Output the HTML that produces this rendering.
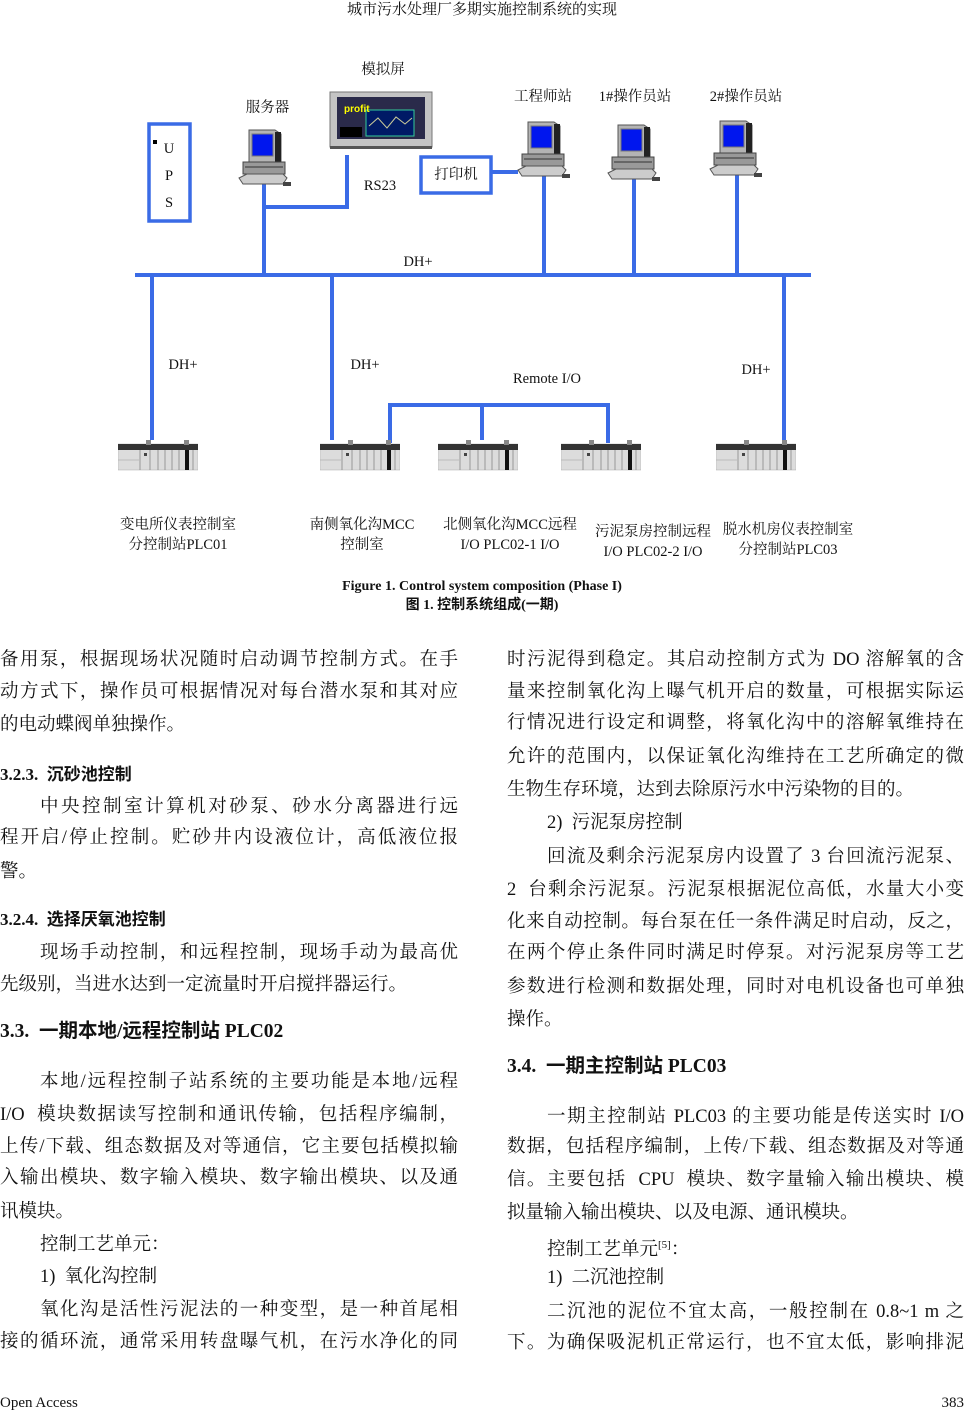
<!DOCTYPE html>
<html><head><meta charset="utf-8"><style>
body{margin:0;width:964px;height:1414px;position:relative;background:#fff;overflow:hidden;font-family:"Liberation Serif","Noto Serif CJK SC",serif;color:#111}
.a{position:absolute;white-space:nowrap}
.l{position:absolute;height:26px;line-height:26px;font-size:18.5px;text-align:justify;text-align-last:justify;white-space:nowrap;overflow:visible}
.L{left:0;width:458px}.R{left:507px;width:457px}
.n{text-align-last:left}
.h{font-family:"Liberation Serif","Noto Sans CJK SC",sans-serif;font-weight:bold;font-size:17px;text-align-last:left}
.h2{font-size:19.5px}
.d{position:absolute;font-size:14.5px;white-space:nowrap;text-align:center;line-height:20px}
</style></head><body>
<div class="a" style="left:0;width:964px;text-align:center;top:0;font-size:15px;line-height:20px">城市污水处理厂多期实施控制系统的实现</div>

<svg class="a" style="left:0;top:0" width="964" height="570">
<defs>
<symbol id="pc" viewBox="0 0 56 60">
<path d="M12 2h26l6 4v28H12z" fill="#b4b4b4" stroke="#555" stroke-width="1"/>
<rect x="38" y="4" width="6" height="30" fill="#222"/>
<rect x="15" y="6" width="21" height="22" fill="#0016ee" stroke="#777"/>
<rect x="6" y="34" width="42" height="12" fill="#999" stroke="#444"/>
<line x1="8" y1="39" x2="46" y2="39" stroke="#333"/>
<path d="M2 50l8-4h36l4 4-4 6H6z" fill="#ccc" stroke="#555"/>
<rect x="46" y="54" width="8" height="4" fill="#444"/>
</symbol>
<symbol id="plc" viewBox="0 0 80 32">
<rect x="0" y="4" width="80" height="26" fill="#dcdcdc" stroke="#aaa" stroke-width=".5"/>
<rect x="0" y="4" width="80" height="6" fill="#333"/>
<rect x="28" y="0" width="5" height="5" fill="#888"/><rect x="66" y="0" width="5" height="5" fill="#888"/>
<g stroke="#888" stroke-width=".8"><line x1="22" y1="10" x2="22" y2="30"/><line x1="32" y1="10" x2="32" y2="30"/><line x1="40" y1="10" x2="40" y2="30"/><line x1="47" y1="10" x2="47" y2="30"/><line x1="54" y1="10" x2="54" y2="30"/><line x1="61" y1="10" x2="61" y2="30"/><line x1="75" y1="10" x2="75" y2="30"/></g>
<rect x="67" y="10" width="4" height="20" fill="#111"/>
<rect x="26" y="13" width="3" height="3" fill="#444"/>
<line x1="0" y1="20" x2="22" y2="20" stroke="#bbb"/>
</symbol>
</defs>
<g stroke="#3a6be6" stroke-width="4" fill="none">
<line x1="135" y1="275" x2="811" y2="275"/>
<rect x="149" y="124" width="41" height="97" stroke-width="3.5"/>
<polyline points="264,183 264,275"/>
<polyline points="264,207 347,207 347,155"/>
<rect x="421" y="157" width="70" height="36" stroke-width="3.5"/>
<polyline points="491,172 518,172"/>
<line x1="544" y1="172" x2="544" y2="275"/>
<line x1="634" y1="172" x2="634" y2="275"/>
<line x1="737" y1="170" x2="737" y2="275"/>
<line x1="152" y1="275" x2="152" y2="440"/>
<line x1="332" y1="275" x2="332" y2="440"/>
<line x1="784" y1="275" x2="784" y2="444"/>
<polyline points="390,443 390,405 608,405 608,443"/>
<line x1="482" y1="405" x2="482" y2="440"/>
</g>
<rect x="153" y="140" width="4" height="4" fill="#000"/>
<use href="#pc" x="237" y="128" width="56" height="60"/>
<use href="#pc" x="516" y="120" width="56" height="60"/>
<use href="#pc" x="606" y="123" width="56" height="60"/>
<use href="#pc" x="708" y="119" width="56" height="60"/>
<rect x="330" y="92" width="102" height="55" fill="#c4c4c4" stroke="#777"/>
<rect x="337" y="97" width="88" height="42" fill="#2a2a4a"/>
<rect x="366" y="110" width="48" height="26" fill="#001a66" stroke="#3c9"/>
<polyline points="369,126 378,118 387,128 396,117 405,124 412,118" stroke="#cc9" fill="none"/>
<text x="344" y="112" fill="#ff0" font-size="10" font-weight="bold" font-family="Liberation Sans">profit</text>
<rect x="340" y="127" width="22" height="10" fill="#000"/>
<rect x="330" y="146" width="102" height="3" fill="#555"/>
<use href="#plc" x="118" y="440" width="80" height="32"/>
<use href="#plc" x="320" y="440" width="80" height="32"/>
<use href="#plc" x="438" y="440" width="80" height="32"/>
<use href="#plc" x="561" y="440" width="80" height="32"/>
<use href="#plc" x="716" y="440" width="80" height="32"/>
</svg>

<div class="d" style="left:163px;top:136px;width:12px;line-height:27px">U<br>P<br>S</div>
<div class="d" style="left:345px;top:60px;width:76px">模拟屏</div>
<div class="d" style="left:230px;top:98px;width:75px">服务器</div>
<div class="d" style="left:505px;top:87px;width:76px">工程师站</div>
<div class="d" style="left:590px;top:87px;width:90px">1#操作员站</div>
<div class="d" style="left:700px;top:87px;width:92px">2#操作员站</div>
<div class="d" style="left:355px;top:176px;width:50px">RS23</div>
<div class="d" style="left:421px;top:165px;width:70px">打印机</div>
<div class="d" style="left:398px;top:252px;width:40px">DH+</div>
<div class="d" style="left:163px;top:355px;width:40px">DH+</div>
<div class="d" style="left:345px;top:355px;width:40px">DH+</div>
<div class="d" style="left:736px;top:360px;width:40px">DH+</div>
<div class="d" style="left:500px;top:369px;width:94px">Remote I/O</div>
<div class="d" style="left:98px;top:515px;width:160px">变电所仪表控制室<br>分控制站PLC01</div>
<div class="d" style="left:282px;top:515px;width:160px">南侧氧化沟MCC<br>控制室</div>
<div class="d" style="left:430px;top:515px;width:160px">北侧氧化沟MCC远程<br>I/O PLC02-1 I/O</div>
<div class="d" style="left:573px;top:522px;width:160px">污泥泵房控制远程<br>I/O PLC02-2 I/O</div>
<div class="d" style="left:708px;top:520px;width:160px">脱水机房仪表控制室<br>分控制站PLC03</div>

<div class="a" style="left:0;width:964px;text-align:center;top:578px;font-size:14px;font-weight:bold;line-height:18px">Figure 1. Control system composition (Phase I)</div>
<div class="a" style="left:0;width:964px;text-align:center;top:597px;font-size:14px;font-weight:bold;line-height:18px;font-family:'Liberation Serif','Noto Sans CJK SC',sans-serif">图 1. 控制系统组成(一期)</div>

<div class="l L" style="top:647px">备用泵，根据现场状况随时启动调节控制方式。在手</div>
<div class="l L" style="top:679px">动方式下，操作员可根据情况对每台潜水泵和其对应</div>
<div class="l L n" style="top:712px">的电动蝶阀单独操作。</div>
<div class="l L h" style="top:762px">3.2.3.&nbsp; 沉砂池控制</div>
<div class="l L" style="top:794px;padding-left:40px;width:418px">中央控制室计算机对砂泵、砂水分离器进行远</div>
<div class="l L" style="top:825px">程开启/停止控制。贮砂井内设液位计，高低液位报</div>
<div class="l L n" style="top:859px">警。</div>
<div class="l L h" style="top:907px">3.2.4.&nbsp; 选择厌氧池控制</div>
<div class="l L" style="top:940px;padding-left:40px;width:418px">现场手动控制，和远程控制，现场手动为最高优</div>
<div class="l L n" style="top:972px">先级别，当进水达到一定流量时开启搅拌器运行。</div>
<div class="l L h h2" style="top:1019px">3.3.&nbsp; 一期本地/远程控制站 PLC02</div>
<div class="l L" style="top:1069px;padding-left:40px;width:418px">本地/远程控制子站系统的主要功能是本地/远程</div>
<div class="l L" style="top:1102px">I/O&nbsp; 模块数据读写控制和通讯传输，包括程序编制，</div>
<div class="l L" style="top:1134px">上传/下载、组态数据及对等通信，它主要包括模拟输</div>
<div class="l L" style="top:1165px">入输出模块、数字输入模块、数字输出模块、以及通</div>
<div class="l L n" style="top:1199px">讯模块。</div>
<div class="l L n" style="top:1232px;padding-left:40px">控制工艺单元：</div>
<div class="l L n" style="top:1264px;padding-left:40px">1)&nbsp; 氧化沟控制</div>
<div class="l L" style="top:1297px;padding-left:40px;width:418px">氧化沟是活性污泥法的一种变型，是一种首尾相</div>
<div class="l L" style="top:1329px">接的循环流，通常采用转盘曝气机，在污水净化的同</div>

<div class="l R" style="top:647px">时污泥得到稳定。其启动控制方式为 DO 溶解氧的含</div>
<div class="l R" style="top:679px">量来控制氧化沟上曝气机开启的数量，可根据实际运</div>
<div class="l R" style="top:710px">行情况进行设定和调整，将氧化沟中的溶解氧维持在</div>
<div class="l R" style="top:744px">允许的范围内，以保证氧化沟维持在工艺所确定的微</div>
<div class="l R n" style="top:777px">生物生存环境，达到去除原污水中污染物的目的。</div>
<div class="l R n" style="top:810px;padding-left:40px">2)&nbsp; 污泥泵房控制</div>
<div class="l R" style="top:844px;padding-left:40px;width:417px">回流及剩余污泥泵房内设置了 3 台回流污泥泵、</div>
<div class="l R" style="top:877px">2&nbsp; 台剩余污泥泵。污泥泵根据泥位高低，水量大小变</div>
<div class="l R" style="top:909px">化来自动控制。每台泵在任一条件满足时启动，反之，</div>
<div class="l R" style="top:940px">在两个停止条件同时满足时停泵。对污泥泵房等工艺</div>
<div class="l R" style="top:974px">参数进行检测和数据处理，同时对电机设备也可单独</div>
<div class="l R n" style="top:1007px">操作。</div>
<div class="l R h h2" style="top:1054px">3.4.&nbsp; 一期主控制站 PLC03</div>
<div class="l R" style="top:1104px;padding-left:40px;width:417px">一期主控制站 PLC03 的主要功能是传送实时 I/O</div>
<div class="l R" style="top:1134px">数据，包括程序编制，上传/下载、组态数据及对等通</div>
<div class="l R" style="top:1167px">信。主要包括&nbsp; CPU&nbsp; 模块、数字量输入输出模块、模</div>
<div class="l R n" style="top:1200px">拟量输入输出模块、以及电源、通讯模块。</div>
<div class="l R n" style="top:1232px;padding-left:40px">控制工艺单元<sup style="font-size:11px">[5]</sup>：</div>
<div class="l R n" style="top:1265px;padding-left:40px">1)&nbsp; 二沉池控制</div>
<div class="l R" style="top:1299px;padding-left:40px;width:417px">二沉池的泥位不宜太高，一般控制在 0.8~1 m 之</div>
<div class="l R" style="top:1330px">下。为确保吸泥机正常运行，也不宜太低，影响排泥</div>

<div class="a" style="left:0;top:1393px;font-size:15px;line-height:20px">Open Access</div>
<div class="a" style="right:0;top:1393px;font-size:15px;line-height:20px">383</div>
</body></html>
